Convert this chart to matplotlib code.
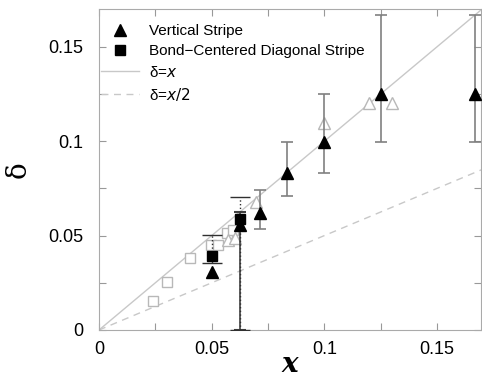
import numpy as np
import matplotlib
matplotlib.use("Agg")
import matplotlib.pyplot as plt
from matplotlib.lines import Line2D
from matplotlib.legend_handler import HandlerLine2D
from matplotlib.ticker import MultipleLocator, FuncFormatter

# vertical stripe (filled triangles) with error bounds
vert_x = [0.05, 0.0625, 1/14, 1/12, 0.1, 0.125, 1/6]
vert_y = [0.0309, 0.0556, 0.0621, 0.0829, 0.0996, 0.125, 0.125]
vert_lo = [0.0309, 0.0, 0.0533, 0.0711, 0.0829, 0.0996, 0.0996]
vert_hi = [0.0309, 0.0623, 0.0741, 0.0996, 0.1249, 0.1667, 0.1667]

# bond-centered diagonal stripe (filled squares) with dotted error bounds
diag_x = [0.05, 0.0625]
diag_y = [0.0392, 0.0588]
diag_lo = [0.0353, 0.0]
diag_hi = [0.0503, 0.0703]

# open (gray) symbols
open_tri_x = [0.0572, 0.0602, 0.0698, 0.1, 0.12, 0.13]
open_tri_y = [0.0476, 0.0485, 0.0679, 0.1097, 0.1200, 0.1200]
open_sq_x = [0.024, 0.0302, 0.0403, 0.0498, 0.0528, 0.0568, 0.0594]
open_sq_y = [0.0155, 0.0256, 0.0379, 0.0450, 0.0450, 0.0512, 0.0529]

line_x = np.array([0, 0.17])

plt.rcParams['font.family'] = ['Liberation Sans', 'DejaVu Sans']

fig = plt.figure(figsize=(4.82, 3.83), dpi=100)
ax = fig.add_axes([0.2054, 0.1384, 0.7926, 0.8381])

gray = '#b8b8b8'
ax.plot(line_x, line_x, color='#c8c8c8', lw=1.0, zorder=1)
ax.plot(line_x, line_x / 2, color='#c8c8c8', lw=1.0, ls=(0, (5, 4)), zorder=1)

ax.plot(open_sq_x, open_sq_y, ls='none', marker='s', ms=7, mfc='white',
        mec=gray, mew=1.0, zorder=2)
ax.plot(open_tri_x, open_tri_y, ls='none', marker='^', ms=8, mfc='white',
        mec=gray, mew=1.0, zorder=2)

vy = np.array(vert_y)
yerr = [vy - np.array(vert_lo), np.array(vert_hi) - vy]
# gray error bars for the larger x values
ax.errorbar(vert_x[2:], vert_y[2:], yerr=[yerr[0][2:], yerr[1][2:]], fmt='none',
            ecolor='#808080', elinewidth=1.2, capsize=4.5, capthick=1.2, zorder=3)
# darker bar at x = 1/16
ax.errorbar(vert_x[1:2], vert_y[1:2], yerr=[yerr[0][1:2], yerr[1][1:2]], fmt='none',
            ecolor='#404040', elinewidth=1.2, capsize=4, capthick=1.5, zorder=3)

dy = np.array(diag_y)
eb = ax.errorbar(diag_x, diag_y, yerr=[dy - np.array(diag_lo), np.array(diag_hi) - dy],
                 fmt='none', ecolor='#303030', elinewidth=1.0, capsize=7, capthick=1.0,
                 zorder=3)
for c in eb[2]:
    c.set_linestyle(':')
for c in eb[1]:
    c.set_markersize(14)

ax.plot(vert_x, vert_y, ls='none', marker='^', ms=8, color='black', zorder=4)
ax.plot(diag_x, diag_y, ls='none', marker='s', ms=6.5, color='black', zorder=4)

ax.set_xlim(0, 0.1695)
ax.set_ylim(0, 0.17)
ax.xaxis.set_major_locator(MultipleLocator(0.05))
ax.yaxis.set_major_locator(MultipleLocator(0.05))
ax.xaxis.set_minor_locator(MultipleLocator(0.025))
ax.yaxis.set_minor_locator(MultipleLocator(0.025))
fmt = FuncFormatter(lambda v, p: '%g' % round(v, 3))
ax.xaxis.set_major_formatter(fmt)
ax.yaxis.set_major_formatter(fmt)
ax.tick_params(which='both', direction='in', top=True, right=True, color='#999999',
               labelsize=13, width=0.8)
ax.tick_params(which='major', length=5)
ax.tick_params(which='minor', length=5)
ax.tick_params(axis='x', pad=8)
ax.tick_params(axis='y', pad=11)
for s in ax.spines.values():
    s.set_color('#aaaaaa')
    s.set_linewidth(0.8)

ax.set_xlabel('x', family='DejaVu Serif', style='italic', weight='bold', fontsize=20,
              labelpad=-5)
ax.set_ylabel('δ', family='DejaVu Serif', fontsize=20, labelpad=12)


class RightMarker(HandlerLine2D):
    def get_xdata(self, legend, xdescent, ydescent, width, height, fontsize):
        xdata = np.array([-xdescent, -xdescent + width])
        return xdata, np.array([-xdescent + width - 1])


handles = [
    Line2D([], [], ls='none', marker='^', ms=8, color='black'),
    Line2D([], [], ls='none', marker='s', ms=6.5, color='black'),
    Line2D([], [], color='#c8c8c8', lw=1.0),
    Line2D([], [], color='#c8c8c8', lw=1.0, ls=(0, (5, 4))),
]
labels = ['Vertical Stripe', 'Bond\u2212Centered Diagonal Stripe', 'δ=$x$', 'δ=$x/2$']
leg = ax.legend(handles, labels, loc='upper left', bbox_to_anchor=(-0.03, 0.995),
                frameon=False, fontsize=11, handlelength=2.5, handletextpad=0.6,
                labelspacing=0.4, numpoints=1,
                handler_map={handles[0]: RightMarker(), handles[1]: RightMarker()})

fig.savefig('out.png', dpi=100)
